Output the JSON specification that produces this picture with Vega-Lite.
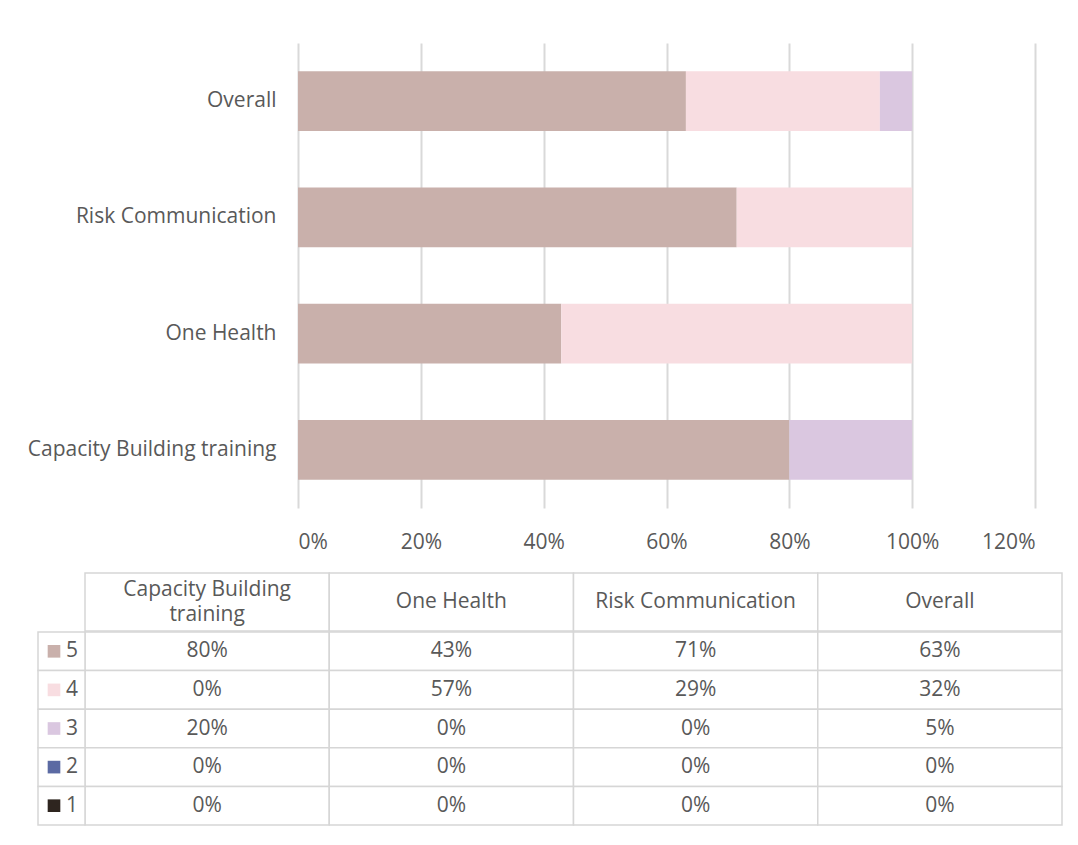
{
  "$schema": "https://vega.github.io/schema/vega-lite/v6.json",
  "background": "white",
  "padding": {"left": 27, "top": 43, "right": 8, "bottom": 15},
  "config": {
    "view": {"stroke": null},
    "font": "Open Sans",
    "axis": {"labelColor": "#595959", "labelFontSize": 21, "labelFont": "Open Sans", "labelLimit": 400},
    "text": {"font": "Open Sans", "fontSize": 21, "color": "#595959"}
  },
  "datasets": {
    "scores": [
      {"cat": "Capacity Building training", "score": 5, "pct": 0.8},
      {"cat": "Capacity Building training", "score": 4, "pct": 0},
      {"cat": "Capacity Building training", "score": 3, "pct": 0.2},
      {"cat": "Capacity Building training", "score": 2, "pct": 0},
      {"cat": "Capacity Building training", "score": 1, "pct": 0},
      {"cat": "One Health", "score": 5, "pct": 0.4286},
      {"cat": "One Health", "score": 4, "pct": 0.5714},
      {"cat": "One Health", "score": 3, "pct": 0},
      {"cat": "One Health", "score": 2, "pct": 0},
      {"cat": "One Health", "score": 1, "pct": 0},
      {"cat": "Risk Communication", "score": 5, "pct": 0.7143},
      {"cat": "Risk Communication", "score": 4, "pct": 0.2857},
      {"cat": "Risk Communication", "score": 3, "pct": 0},
      {"cat": "Risk Communication", "score": 2, "pct": 0},
      {"cat": "Risk Communication", "score": 1, "pct": 0},
      {"cat": "Overall", "score": 5, "pct": 0.6316},
      {"cat": "Overall", "score": 4, "pct": 0.3158},
      {"cat": "Overall", "score": 3, "pct": 0.0526},
      {"cat": "Overall", "score": 2, "pct": 0},
      {"cat": "Overall", "score": 1, "pct": 0}
    ],
    "headers": [
      {"cat": "Capacity Building training", "head": "Capacity Building\ntraining"},
      {"cat": "One Health", "head": "One Health"},
      {"cat": "Risk Communication", "head": "Risk Communication"},
      {"cat": "Overall", "head": "Overall"}
    ],
    "keys": [
      {"score": 5}, {"score": 4}, {"score": 3}, {"score": 2}, {"score": 1}
    ]
  },
  "spacing": 20,
  "vconcat": [
    {
      "width": 737,
      "height": 465,
      "data": {"name": "scores"},
      "mark": {"type": "bar"},
      "encoding": {
        "y": {
          "field": "cat", "type": "nominal",
          "scale": {"domain": ["Overall", "Risk Communication", "One Health", "Capacity Building training"], "paddingInner": 0.485, "paddingOuter": 0.2425},
          "axis": {"title": null, "ticks": false, "tickSize": 0, "domain": false, "labelPadding": 22}
        },
        "x": {
          "field": "pct", "type": "quantitative", "stack": "zero",
          "scale": {"domain": [0, 1.2], "nice": false},
          "axis": {"title": null, "values": [0, 0.2, 0.4, 0.6, 0.8, 1, 1.2], "format": ".0%", "grid": true, "gridColor": "#d9d9d9", "gridWidth": 2, "domain": false, "ticks": false, "tickSize": 0, "labelPadding": 23}
        },
        "color": {
          "field": "score", "type": "nominal",
          "scale": {"domain": [5, 4, 3, 2, 1], "range": ["#c9b0ab", "#f8dde1", "#dac7e0", "#5b6aa3", "#2e251f"]},
          "legend": null
        },
        "order": {"field": "score", "type": "quantitative", "sort": "descending"}
      }
    },
    {
      "spacing": -2,
      "vconcat": [
        {
          "width": 737,
          "height": 58,
          "data": {"name": "headers"},
          "encoding": {
            "x": {
              "field": "cat", "type": "nominal",
              "scale": {"domain": ["Capacity Building training", "One Health", "Risk Communication", "Overall"], "range": [-213, 764], "paddingInner": 0, "paddingOuter": 0},
              "axis": null
            }
          },
          "layer": [
            {"mark": {"type": "rect", "fill": "white", "stroke": "#d6d6d6", "strokeWidth": 1.5}},
            {
              "transform": [{"filter": "indexof(datum.head, '\\n') < 0"}],
              "mark": {"type": "text", "baseline": "middle"},
              "encoding": {"text": {"field": "head"}}
            },
            {
              "transform": [{"filter": "indexof(datum.head, '\\n') >= 0"}],
              "mark": {"type": "text", "lineBreak": "\n", "lineHeight": 25, "baseline": "middle", "dy": -12.5},
              "encoding": {"text": {"field": "head"}}
            }
          ]
        },
        {
          "width": 737,
          "height": 193,
          "resolve": {"scale": {"x": "independent"}},
          "layer": [
            {
              "data": {"name": "scores"},
              "mark": {"type": "rect", "fill": "white", "stroke": "#d6d6d6", "strokeWidth": 1.5},
              "encoding": {
                "x": {"field": "cat", "type": "nominal", "scale": {"domain": ["Capacity Building training", "One Health", "Risk Communication", "Overall"], "range": [-213, 764], "paddingInner": 0, "paddingOuter": 0}, "axis": null},
                "y": {"field": "score", "type": "nominal", "scale": {"domain": [5, 4, 3, 2, 1], "paddingInner": 0, "paddingOuter": 0}, "axis": null}
              }
            },
            {
              "data": {"name": "scores"},
              "mark": {"type": "text", "baseline": "middle"},
              "encoding": {
                "x": {"field": "cat", "type": "nominal", "scale": {"domain": ["Capacity Building training", "One Health", "Risk Communication", "Overall"], "range": [-213, 764], "paddingInner": 0, "paddingOuter": 0}, "axis": null},
                "y": {"field": "score", "type": "nominal", "scale": {"domain": [5, 4, 3, 2, 1], "paddingInner": 0, "paddingOuter": 0}, "axis": null},
                "text": {"field": "pct", "type": "quantitative", "format": ".0%"}
              }
            },
            {
              "data": {"name": "keys"},
              "mark": {"type": "rect", "fill": "white", "stroke": "#d6d6d6", "strokeWidth": 1.5},
              "encoding": {
                "x": {"datum": "key", "type": "nominal", "scale": {"range": [-260, -213], "paddingInner": 0, "paddingOuter": 0}, "axis": null},
                "y": {"field": "score", "type": "nominal", "scale": {"domain": [5, 4, 3, 2, 1], "paddingInner": 0, "paddingOuter": 0}, "axis": null}
              }
            },
            {
              "data": {"name": "keys"},
              "mark": {"type": "point", "shape": "square", "filled": true, "opacity": 1, "size": 160, "xOffset": -7.5},
              "encoding": {
                "x": {"datum": "key", "type": "nominal", "scale": {"range": [-260, -213], "paddingInner": 0, "paddingOuter": 0}, "axis": null},
                "y": {"field": "score", "type": "nominal", "scale": {"domain": [5, 4, 3, 2, 1], "paddingInner": 0, "paddingOuter": 0}, "axis": null},
                "color": {"field": "score", "type": "nominal", "scale": {"domain": [5, 4, 3, 2, 1], "range": ["#c9b0ab", "#f8dde1", "#dac7e0", "#5b6aa3", "#2e251f"]}, "legend": null}
              }
            },
            {
              "data": {"name": "keys"},
              "mark": {"type": "text", "baseline": "middle", "dx": 10.5},
              "encoding": {
                "x": {"datum": "key", "type": "nominal", "scale": {"range": [-260, -213], "paddingInner": 0, "paddingOuter": 0}, "axis": null},
                "y": {"field": "score", "type": "nominal", "scale": {"domain": [5, 4, 3, 2, 1], "paddingInner": 0, "paddingOuter": 0}, "axis": null},
                "text": {"field": "score", "type": "nominal"}
              }
            }
          ]
        }
      ]
    }
  ]
}
